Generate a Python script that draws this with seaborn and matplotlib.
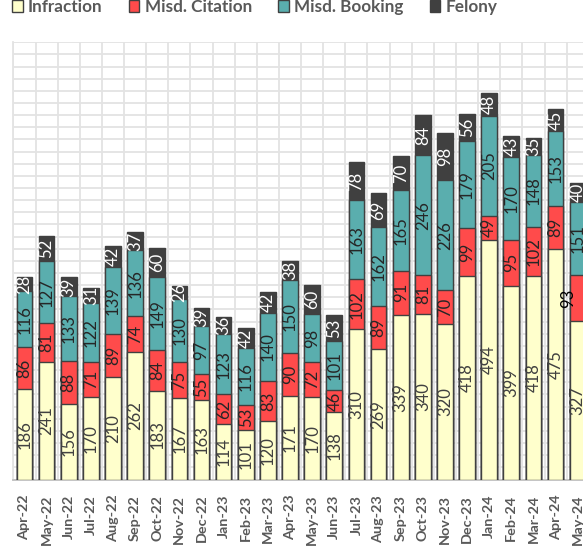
import matplotlib
matplotlib.use("Agg")
import matplotlib.pyplot as plt
import seaborn as sns
import numpy as np
from matplotlib.patches import Patch

months = ["Apr-22","May-22","Jun-22","Jul-22","Aug-22","Sep-22","Oct-22","Nov-22","Dec-22",
          "Jan-23","Feb-23","Mar-23","Apr-23","May-23","Jun-23","Jul-23","Aug-23","Sep-23",
          "Oct-23","Nov-23","Dec-23","Jan-24","Feb-24","Mar-24","Apr-24","May-24"]
infraction = [186,241,156,170,210,262,183,167,163,114,101,120,171,170,138,310,269,339,340,320,418,494,399,418,475,327]
misd_citation = [86,81,88,71,89,74,84,75,55,62,53,83,90,72,46,102,89,91,81,70,99,49,95,102,89,93]
misd_booking = [116,127,133,122,139,136,149,130,97,123,116,140,150,98,101,163,162,165,246,226,179,205,170,148,153,151]
felony = [28,52,39,31,42,37,60,26,39,36,42,42,38,60,53,78,69,70,84,98,56,48,43,35,45,40]

series_names = ["Infraction", "Misd. Citation", "Misd. Booking", "Felony"]
series = [infraction, misd_citation, misd_booking, felony]
colors = ["#FFFFCC", "#FF4B4B", "#5AAEAE", "#404040"]
label_colors = ["#404040", "#262626", "#262626", "#FFFFFF"]
edge = "#404040"

sns.set_style("white")
plt.rcParams['font.family'] = ['Lato', 'DejaVu Sans']

W, H = 583, 556
fig = plt.figure(figsize=(W/100, H/100), dpi=100)
cat_w = 22.13
left_px = 13.4
n_cats_axis = 28
bottom_px = 479.5
top_px = 42.3
ax = fig.add_axes([left_px/W, (H-bottom_px)/H, n_cats_axis*cat_w/W, (bottom_px-top_px)/H])

data = np.array(series, dtype=float)
cum = np.cumsum(data, axis=0)
bar_w = 0.71
for k in range(3, -1, -1):
    sns.barplot(x=months, y=cum[k], order=months, color=colors[k], saturation=1,
                edgecolor=edge, linewidth=1.0, width=bar_w, ax=ax, zorder=3)

bases = np.vstack([np.zeros(len(months)), cum[:-1]])
for k in range(4):
    for i, v in enumerate(series[k]):
        yc = bases[k][i] + v / 2
        xc = i
        col = label_colors[k]
        if months[i] == "May-24" and k == 1:
            xc = i - 0.45
            col = "#000000"
        ax.text(xc, yc, str(v), rotation=90, ha="center", va="center",
                fontsize=12, color=col, zorder=5)

ax.set_xlim(-0.5, n_cats_axis - 0.5)
ax.set_ylim(0, 900)
ax.set_yticks(np.arange(0, 901, 25))
ax.set_yticklabels([])
ax.set_xticks(np.arange(-0.5, n_cats_axis, 1.0), minor=True)
ax.grid(True, axis="y", which="major", color="#E3E3E3", linewidth=1.3, zorder=0)
ax.grid(True, axis="x", which="minor", color="#E3E3E3", linewidth=1.3, zorder=0)
ax.set_axisbelow(True)
ax.tick_params(axis="both", which="both", length=0)
ax.tick_params(axis="x", which="major", pad=11)
ax.set_xticks(range(len(months)))
ax.set_xticklabels(months, rotation=90, fontsize=10.4, fontweight="bold", color="#595959")
ax.set_xlabel("")
ax.set_ylabel("")
for s in ["top", "right"]:
    ax.spines[s].set_visible(False)
ax.spines["left"].set_color("#E3E3E3")
ax.spines["left"].set_linewidth(1.3)
ax.spines["bottom"].set_color("#BFBFBF")
ax.spines["bottom"].set_linewidth(1.3)

handles = [Patch(facecolor=c, edgecolor=edge, linewidth=1.0) for c in colors]
leg = fig.legend(handles, series_names, loc="upper left", bbox_to_anchor=(12/W, 1.0 + 1/H),
                 ncol=4, frameon=False, handlelength=0.62, handleheight=0.62,
                 handletextpad=0.3, columnspacing=1.55, borderaxespad=0, borderpad=0.0,
                 prop={"weight": "bold", "size": 12.3})
for t in leg.get_texts():
    t.set_color("#595959")

fig.savefig("out.png", dpi=100)
